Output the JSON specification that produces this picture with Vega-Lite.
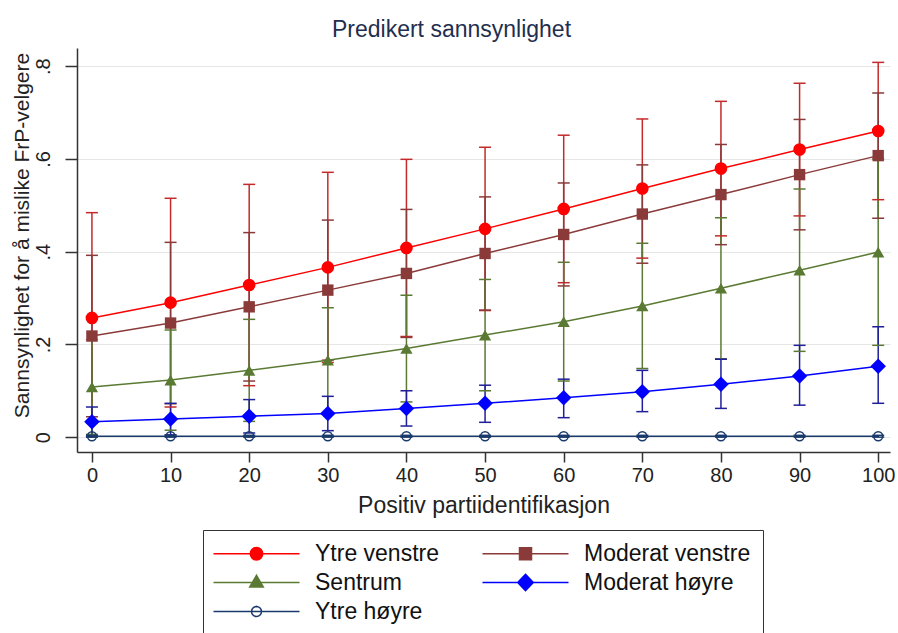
{
  "$schema": "https://vega.github.io/schema/vega-lite/v6.json",
  "width": 813,
  "height": 404,
  "autosize": {"type": "none"},
  "padding": {"left": 77, "top": 48, "right": 8, "bottom": 181},
  "background": "white",
  "title": {
    "text": "Predikert sannsynlighet",
    "fontSize": 23,
    "fontWeight": "normal",
    "font": "Liberation Sans",
    "color": "#1f2f4f",
    "anchor": "middle",
    "dx": -32,
    "offset": 6
  },
  "config": {
    "view": {"stroke": null},
    "font": "Liberation Sans",
    "axis": {
      "domainColor": "#333333",
      "domainWidth": 1.5,
      "tickColor": "#333333",
      "tickWidth": 1.5,
      "labelColor": "#222222",
      "titleColor": "#222222",
      "labelFont": "Liberation Sans",
      "titleFont": "Liberation Sans",
      "titleFontWeight": "normal"
    },
    "legend": {
      "title": null,
      "orient": "none",
      "direction": "horizontal",
      "legendX": 126,
      "legendY": 482,
      "columns": 2,
      "columnPadding": 40,
      "rowPadding": 5,
      "padding": 12,
      "symbolSize": 400,
      "symbolStrokeWidth": 1.5,
      "symbolOpacity": 1,
      "symbolOffset": 30,
      "labelOffset": 47,
      "labelFontSize": 23,
      "labelFont": "Liberation Sans",
      "labelColor": "#111111",
      "labelLimit": 400,
      "strokeColor": "#333333",
      "fillColor": "#ffffff"
    }
  },
  "data": {
    "values": [
      {"parti": "Ytre venstre", "x": 0, "p": 0.257, "lo": 0.030, "hi": 0.484},
      {"parti": "Ytre venstre", "x": 10, "p": 0.290, "lo": 0.065, "hi": 0.515},
      {"parti": "Ytre venstre", "x": 20, "p": 0.328, "lo": 0.111, "hi": 0.545},
      {"parti": "Ytre venstre", "x": 30, "p": 0.366, "lo": 0.161, "hi": 0.571},
      {"parti": "Ytre venstre", "x": 40, "p": 0.408, "lo": 0.217, "hi": 0.599},
      {"parti": "Ytre venstre", "x": 50, "p": 0.449, "lo": 0.273, "hi": 0.625},
      {"parti": "Ytre venstre", "x": 60, "p": 0.492, "lo": 0.333, "hi": 0.651},
      {"parti": "Ytre venstre", "x": 70, "p": 0.536, "lo": 0.386, "hi": 0.686},
      {"parti": "Ytre venstre", "x": 80, "p": 0.579, "lo": 0.434, "hi": 0.724},
      {"parti": "Ytre venstre", "x": 90, "p": 0.620, "lo": 0.477, "hi": 0.763},
      {"parti": "Ytre venstre", "x": 100, "p": 0.660, "lo": 0.512, "hi": 0.808},
      {"parti": "Moderat venstre", "x": 0, "p": 0.218, "lo": 0.044, "hi": 0.392},
      {"parti": "Moderat venstre", "x": 10, "p": 0.246, "lo": 0.072, "hi": 0.420},
      {"parti": "Moderat venstre", "x": 20, "p": 0.281, "lo": 0.121, "hi": 0.441},
      {"parti": "Moderat venstre", "x": 30, "p": 0.317, "lo": 0.166, "hi": 0.468},
      {"parti": "Moderat venstre", "x": 40, "p": 0.353, "lo": 0.215, "hi": 0.491},
      {"parti": "Moderat venstre", "x": 50, "p": 0.396, "lo": 0.274, "hi": 0.518},
      {"parti": "Moderat venstre", "x": 60, "p": 0.437, "lo": 0.326, "hi": 0.548},
      {"parti": "Moderat venstre", "x": 70, "p": 0.481, "lo": 0.375, "hi": 0.587},
      {"parti": "Moderat venstre", "x": 80, "p": 0.523, "lo": 0.415, "hi": 0.631},
      {"parti": "Moderat venstre", "x": 90, "p": 0.566, "lo": 0.447, "hi": 0.685},
      {"parti": "Moderat venstre", "x": 100, "p": 0.607, "lo": 0.472, "hi": 0.742},
      {"parti": "Sentrum", "x": 0, "p": 0.108, "lo": 0.006, "hi": 0.210},
      {"parti": "Sentrum", "x": 10, "p": 0.123, "lo": 0.015, "hi": 0.231},
      {"parti": "Sentrum", "x": 20, "p": 0.144, "lo": 0.034, "hi": 0.254},
      {"parti": "Sentrum", "x": 30, "p": 0.166, "lo": 0.053, "hi": 0.279},
      {"parti": "Sentrum", "x": 40, "p": 0.191, "lo": 0.076, "hi": 0.306},
      {"parti": "Sentrum", "x": 50, "p": 0.220, "lo": 0.100, "hi": 0.340},
      {"parti": "Sentrum", "x": 60, "p": 0.249, "lo": 0.121, "hi": 0.377},
      {"parti": "Sentrum", "x": 70, "p": 0.283, "lo": 0.148, "hi": 0.418},
      {"parti": "Sentrum", "x": 80, "p": 0.321, "lo": 0.169, "hi": 0.473},
      {"parti": "Sentrum", "x": 90, "p": 0.360, "lo": 0.185, "hi": 0.535},
      {"parti": "Sentrum", "x": 100, "p": 0.399, "lo": 0.198, "hi": 0.600},
      {"parti": "Moderat høyre", "x": 0, "p": 0.033, "lo": 0.001, "hi": 0.065},
      {"parti": "Moderat høyre", "x": 10, "p": 0.039, "lo": 0.005, "hi": 0.073},
      {"parti": "Moderat høyre", "x": 20, "p": 0.045, "lo": 0.009, "hi": 0.081},
      {"parti": "Moderat høyre", "x": 30, "p": 0.051, "lo": 0.014, "hi": 0.088},
      {"parti": "Moderat høyre", "x": 40, "p": 0.062, "lo": 0.024, "hi": 0.100},
      {"parti": "Moderat høyre", "x": 50, "p": 0.073, "lo": 0.032, "hi": 0.112},
      {"parti": "Moderat høyre", "x": 60, "p": 0.085, "lo": 0.042, "hi": 0.125},
      {"parti": "Moderat høyre", "x": 70, "p": 0.098, "lo": 0.055, "hi": 0.144},
      {"parti": "Moderat høyre", "x": 80, "p": 0.114, "lo": 0.062, "hi": 0.168},
      {"parti": "Moderat høyre", "x": 90, "p": 0.132, "lo": 0.069, "hi": 0.198},
      {"parti": "Moderat høyre", "x": 100, "p": 0.153, "lo": 0.073, "hi": 0.238},
      {"parti": "Ytre høyre", "x": 0, "p": 0.002, "lo": 0.000, "hi": 0.004},
      {"parti": "Ytre høyre", "x": 10, "p": 0.002, "lo": 0.000, "hi": 0.004},
      {"parti": "Ytre høyre", "x": 20, "p": 0.002, "lo": 0.000, "hi": 0.004},
      {"parti": "Ytre høyre", "x": 30, "p": 0.002, "lo": 0.000, "hi": 0.004},
      {"parti": "Ytre høyre", "x": 40, "p": 0.002, "lo": 0.000, "hi": 0.004},
      {"parti": "Ytre høyre", "x": 50, "p": 0.002, "lo": 0.000, "hi": 0.004},
      {"parti": "Ytre høyre", "x": 60, "p": 0.002, "lo": 0.000, "hi": 0.004},
      {"parti": "Ytre høyre", "x": 70, "p": 0.002, "lo": 0.000, "hi": 0.004},
      {"parti": "Ytre høyre", "x": 80, "p": 0.002, "lo": 0.000, "hi": 0.004},
      {"parti": "Ytre høyre", "x": 90, "p": 0.002, "lo": 0.000, "hi": 0.004},
      {"parti": "Ytre høyre", "x": 100, "p": 0.002, "lo": 0.000, "hi": 0.004}
    ]
  },
  "encoding": {
    "x": {
      "field": "x",
      "type": "quantitative",
      "scale": {"domain": [-1.9, 101.5], "nice": false, "zero": false},
      "axis": {
        "title": "Positiv partiidentifikasjon",
        "values": [0, 10, 20, 30, 40, 50, 60, 70, 80, 90, 100],
        "grid": false,
        "tickSize": 10,
        "labelFontSize": 20,
        "labelPadding": 3,
        "labelFlush": false,
        "labelOverlap": false,
        "titleFontSize": 23,
        "titleY": 60,
        "titleBaseline": "alphabetic"
      }
    }
  },
  "layer": [
    {
      "mark": {"type": "rule", "strokeWidth": 1.5, "opacity": 1},
      "encoding": {
        "y": {
          "field": "lo",
          "type": "quantitative",
          "scale": {"domain": [-0.032, 0.839], "nice": false, "zero": false},
          "axis": {
            "title": "Sannsynlighet for å mislike FrP-velgere",
            "values": [0, 0.2, 0.4, 0.6, 0.8],
            "labelExpr": "datum.value == 0 ? '0' : slice(format(datum.value, '.1f'), 1)",
            "grid": true,
            "gridColor": "#e6e6e6",
            "gridWidth": 1,
            "tickSize": 12,
            "labelAngle": -90,
            "labelAlign": "center",
            "labelBaseline": "alphabetic",
            "labelPadding": 16,
            "labelFontSize": 20,
            "titleFontSize": 21,
            "titleAngle": -90,
            "titleX": -55,
            "titleY": 187,
            "titleAlign": "center",
            "titleBaseline": "middle"
          }
        },
        "y2": {"field": "hi"},
        "stroke": {
          "field": "parti",
          "type": "nominal",
          "scale": {
            "domain": ["Ytre høyre", "Moderat høyre", "Sentrum", "Moderat venstre", "Ytre venstre"],
            "range": ["#1a3a6b", "#1f1f9a", "#5a7a33", "#8b3a3a", "#c42a2a"]
          },
          "legend": null
        }
      }
    },
    {
      "mark": {"type": "rule", "strokeWidth": 1.5, "opacity": 1, "xOffset": -6, "x2Offset": 6},
      "encoding": {
        "x2": {"field": "x"},
        "y": {"field": "lo", "type": "quantitative"},
        "stroke": {"field": "parti", "type": "nominal", "legend": null}
      }
    },
    {
      "mark": {"type": "rule", "strokeWidth": 1.5, "opacity": 1, "xOffset": -6, "x2Offset": 6},
      "encoding": {
        "x2": {"field": "x"},
        "y": {"field": "hi", "type": "quantitative"},
        "stroke": {"field": "parti", "type": "nominal", "legend": null}
      }
    },
    {
      "mark": {"type": "line", "strokeWidth": 1.5, "opacity": 1},
      "encoding": {
        "y": {"field": "p", "type": "quantitative"},
        "color": {
          "field": "parti",
          "type": "nominal",
          "scale": {
            "domain": ["Ytre venstre", "Moderat venstre", "Sentrum", "Moderat høyre", "Ytre høyre"],
            "range": ["#ff0000", "#8b3a3a", "#5a7a33", "#0000ff", "#1a3a6b"]
          }
        }
      }
    },
    {
      "transform": [{"filter": "datum.x === 0"}],
      "mark": {"type": "point", "filled": false, "opacity": 0},
      "encoding": {
        "y": {"field": "p", "type": "quantitative"},
        "color": {"field": "parti", "type": "nominal"},
        "fill": {
          "field": "parti",
          "type": "nominal",
          "scale": {
            "domain": ["Ytre venstre", "Moderat venstre", "Sentrum", "Moderat høyre", "Ytre høyre"],
            "range": ["#ff0000", "#8b3a3a", "#5a7a33", "#0000ff", "transparent"]
          }
        },
        "shape": {
          "field": "parti",
          "type": "nominal",
          "scale": {
            "domain": ["Ytre venstre", "Moderat venstre", "Sentrum", "Moderat høyre", "Ytre høyre"],
            "range": [
              "M-4.3,0H4.3M0.62,0A0.62,0.62,0,1,1,-0.62,0A0.62,0.62,0,1,1,0.62,0Z",
              "M-4.3,0H4.3M-0.6,-0.6H0.6V0.6H-0.6Z",
              "M-4.3,0H4.3M0,-0.72L0.68,0.46H-0.68Z",
              "M-4.3,0H4.3M0,-0.82L0.78,0L0,0.82L-0.78,0Z",
              "M-4.3,0H4.3M0.5,0A0.5,0.5,0,1,1,-0.5,0A0.5,0.5,0,1,1,0.5,0ZM0.5,0A0.5,0.5,0,1,0,-0.5,0A0.5,0.5,0,1,0,0.5,0Z"
            ]
          }
        }
      }
    },
    {
      "transform": [{"filter": "datum.parti === 'Ytre venstre'"}],
      "mark": {"type": "point", "shape": "circle", "size": 160, "filled": true, "opacity": 1},
      "encoding": {
        "y": {"field": "p", "type": "quantitative"},
        "color": {"field": "parti", "type": "nominal"}
      }
    },
    {
      "transform": [{"filter": "datum.parti === 'Moderat venstre'"}],
      "mark": {"type": "point", "shape": "square", "size": 130, "filled": true, "opacity": 1},
      "encoding": {
        "y": {"field": "p", "type": "quantitative"},
        "color": {"field": "parti", "type": "nominal"}
      }
    },
    {
      "transform": [{"filter": "datum.parti === 'Sentrum'"}],
      "mark": {"type": "point", "shape": "triangle-up", "size": 150, "filled": true, "opacity": 1},
      "encoding": {
        "y": {"field": "p", "type": "quantitative"},
        "color": {"field": "parti", "type": "nominal"}
      }
    },
    {
      "transform": [{"filter": "datum.parti === 'Moderat høyre'"}],
      "mark": {"type": "point", "shape": "diamond", "size": 240, "filled": true, "opacity": 1},
      "encoding": {
        "y": {"field": "p", "type": "quantitative"},
        "color": {"field": "parti", "type": "nominal"}
      }
    },
    {
      "transform": [{"filter": "datum.parti === 'Ytre høyre'"}],
      "mark": {"type": "point", "shape": "circle", "size": 80, "filled": false, "strokeWidth": 1.5, "opacity": 1},
      "encoding": {
        "y": {"field": "p", "type": "quantitative"},
        "color": {"field": "parti", "type": "nominal"}
      }
    }
  ]
}
